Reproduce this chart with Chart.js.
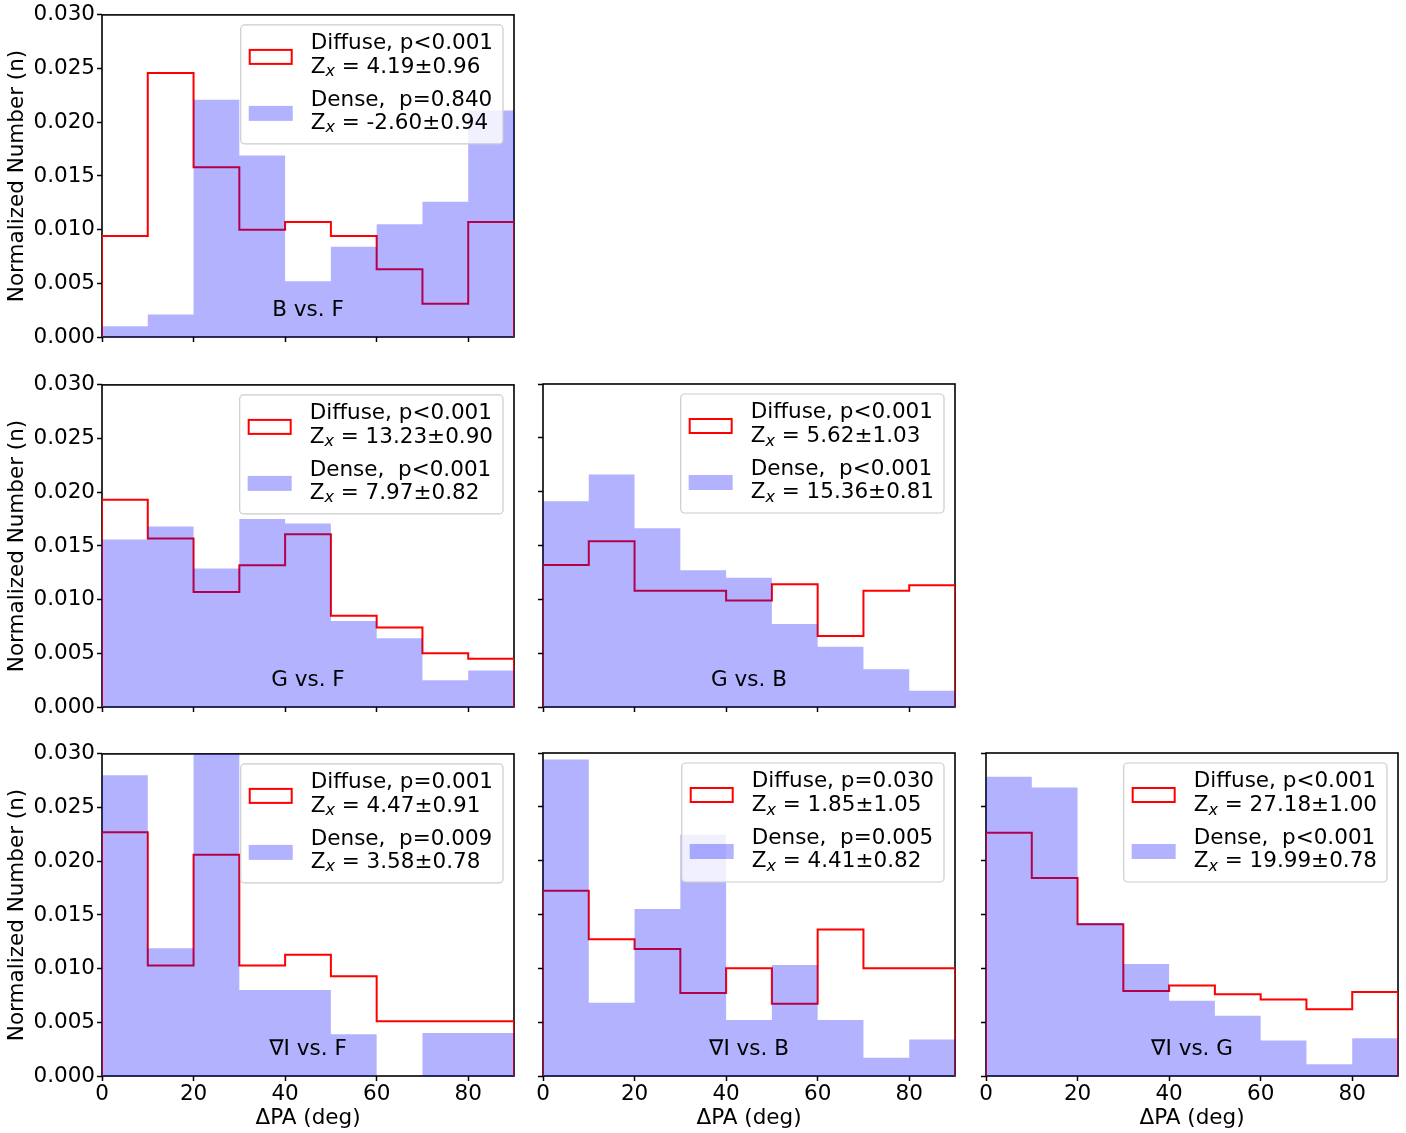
<!DOCTYPE html>
<html>
<head>
<meta charset="utf-8">
<script src="https://cdn.jsdelivr.net/npm/chart.js@4"></script>
<style>
  body { margin: 0; background: #fff; }
  #wrap { position: relative; width: 1406px; height: 1133px; overflow: hidden; }
  #wrap canvas { position: absolute; }
</style>
</head>
<body>
<div id="wrap"></div>
<script>
// histogram bins (deg) and axis ticks
const binEdges = [0, 10, 20, 30, 40, 50, 60, 70, 80, 90];
const xTicks = [0, 20, 40, 60, 80];
const yTicks = [0, 0.005, 0.010, 0.015, 0.020, 0.025, 0.030];

// panel labels
const panelNames = ["B vs. F", "G vs. F", "G vs. B", "∇I vs. F", "∇I vs. B", "∇I vs. G"];

// Diffuse histograms (red step)
const diffuseBF = [0.0094, 0.0246, 0.0158, 0.0100, 0.0107, 0.0094, 0.0063, 0.0031, 0.0107];
const diffuseGF = [0.0193, 0.0157, 0.0107, 0.0132, 0.0161, 0.0085, 0.0074, 0.0050, 0.0045];
const diffuseGB = [0.0132, 0.0154, 0.0108, 0.0108, 0.0099, 0.0114, 0.0066, 0.0108, 0.0113];
const diffuseIF = [0.0227, 0.0103, 0.0206, 0.0103, 0.0113, 0.0093, 0.0051, 0.0051, 0.0051];
const diffuseIB = [0.0172, 0.0127, 0.0118, 0.0077, 0.0100, 0.0067, 0.0136, 0.0100, 0.0100];
const diffuseIG = [0.0226, 0.0184, 0.0141, 0.0079, 0.0084, 0.0076, 0.0071, 0.0062, 0.0078];

// Dense histograms (blue filled)
const denseBF = [0.0010, 0.0021, 0.0221, 0.0169, 0.0052, 0.0084, 0.0105, 0.0126, 0.0211];
const denseGF = [0.0156, 0.0168, 0.0129, 0.0175, 0.0171, 0.0080, 0.0064, 0.0025, 0.0034];
const denseGB = [0.0191, 0.0216, 0.0166, 0.0127, 0.0120, 0.0077, 0.0056, 0.0035, 0.0015];
const denseIF = [0.0280, 0.0119, 0.0310, 0.0080, 0.0080, 0.0039, 0.0000, 0.0040, 0.0040];
const denseIB = [0.0294, 0.0068, 0.0155, 0.0224, 0.0052, 0.0103, 0.0052, 0.0017, 0.0034];
const denseIG = [0.0278, 0.0268, 0.0142, 0.0104, 0.0070, 0.0056, 0.0033, 0.0011, 0.0035];

// legend statistics
const pDiffuse = ["p<0.001", "p<0.001", "p<0.001", "p=0.001", "p=0.030", "p<0.001"];
const zDiffuse = ["4.19±0.96", "13.23±0.90", "5.62±1.03", "4.47±0.91", "1.85±1.05", "27.18±1.00"];
const pDense = ["p=0.840", "p<0.001", "p<0.001", "p=0.009", "p=0.005", "p<0.001"];
const zDense = ["-2.60±0.94", "7.97±0.82", "15.36±0.81", "3.58±0.78", "4.41±0.82", "19.99±0.78"];

const diffuseSets = [diffuseBF, diffuseGF, diffuseGB, diffuseIF, diffuseIB, diffuseIG];
const denseSets = [denseBF, denseGF, denseGB, denseIF, denseIB, denseIG];
const panelGrid = [[0, 0], [1, 0], [1, 1], [2, 0], [2, 1], [2, 2]];

// page layout
const plotLefts = [102, 543, 986];
const plotTops = [14, 384, 753];
const plotW = 412, plotH = 323;
const FONT = "DejaVu Sans";
const FS = 21.5;

// turn bin heights into histogram outline points
function stepPoints(values) {
  const pts = [{ x: binEdges[0], y: 0 }];
  values.forEach((v, i) => {
    pts.push({ x: binEdges[i], y: v });
    pts.push({ x: binEdges[i + 1], y: v });
  });
  pts.push({ x: binEdges[binEdges.length - 1], y: 0 });
  return pts;
}

function roundRect(ctx, x, y, w, h, r) {
  ctx.beginPath();
  ctx.moveTo(x + r, y);
  ctx.arcTo(x + w, y, x + w, y + h, r);
  ctx.arcTo(x + w, y + h, x, y + h, r);
  ctx.arcTo(x, y + h, x, y, r);
  ctx.arcTo(x, y, x + w, y, r);
  ctx.closePath();
}

// frame, panel name and the two-line legend
const panelDecor = {
  id: "panelDecor",
  beforeDatasetsDraw(chart) {
    const { ctx, chartArea: a } = chart;
    ctx.save();
    ctx.strokeStyle = "#000";
    ctx.lineWidth = 1.6;
    ctx.strokeRect(a.left, a.top, a.right - a.left, a.bottom - a.top);
    ctx.restore();
  },
  afterDatasetsDraw(chart, args, opts) {
    const { ctx, chartArea: a } = chart;
    ctx.save();
    ctx.fillStyle = "#000";
    ctx.font = FS + "px '" + FONT + "'";
    ctx.textAlign = "center";
    ctx.textBaseline = "alphabetic";
    ctx.fillText(opts.name, (a.left + a.right) / 2, a.bottom - 21);

    // legend
    ctx.textAlign = "left";
    const subFont = "italic 16px '" + FONT + "'";
    const zWidth = s => {
      ctx.font = FS + "px '" + FONT + "'";
      let w = ctx.measureText("Z").width + ctx.measureText(" = " + s).width;
      ctx.font = subFont;
      w += ctx.measureText("x").width;
      ctx.font = FS + "px '" + FONT + "'";
      return w;
    };
    const l1 = "Diffuse, " + opts.pd;
    const l3 = "Dense,  " + opts.pn;
    const tw = Math.max(ctx.measureText(l1).width, ctx.measureText(l3).width, zWidth(opts.zd), zWidth(opts.zn));
    const w = 70 + tw + 10, h = 119;
    const x = a.right - 11 - w, y = a.top + 10;
    roundRect(ctx, x, y, w, h, 4);
    ctx.fillStyle = "rgba(255,255,255,0.8)";
    ctx.fill();
    ctx.strokeStyle = "#cccccc";
    ctx.lineWidth = 1.2;
    ctx.stroke();

    ctx.strokeStyle = "#ff0000";
    ctx.lineWidth = 2;
    ctx.strokeRect(x + 9, y + 25, 42, 14);
    ctx.fillStyle = "rgba(0,0,255,0.3)";
    ctx.fillRect(x + 8, y + 81, 44, 15);

    const drawZ = (s, by) => {
      ctx.font = FS + "px '" + FONT + "'";
      ctx.fillText("Z", x + 70, by);
      let cx = x + 70 + ctx.measureText("Z").width;
      ctx.font = subFont;
      ctx.fillText("x", cx, by + 3.5);
      cx += ctx.measureText("x").width;
      ctx.font = FS + "px '" + FONT + "'";
      ctx.fillText(" = " + s, cx, by);
    };
    ctx.fillStyle = "#000";
    ctx.font = FS + "px '" + FONT + "'";
    ctx.fillText(l1, x + 70, y + 24);
    drawZ(opts.zd, y + 48);
    ctx.fillText(l3, x + 70, y + 81);
    drawZ(opts.zn, y + 104);
    ctx.restore();
  }
};

const wrap = document.getElementById("wrap");

panelGrid.forEach(([row, col], p) => {
  const L = plotLefts[col], T = plotTops[row];
  const yw = col === 0 ? L : 12;
  const xh = row === 2 ? 1133 - (T + plotH) : 16;
  const padTop = 14, padRight = 8;

  const canvas = document.createElement("canvas");
  canvas.width = yw + plotW + padRight;
  canvas.height = padTop + plotH + xh;
  canvas.style.left = (L - yw) + "px";
  canvas.style.top = (T - padTop) + "px";
  wrap.appendChild(canvas);

  const tickFont = { family: FONT, size: FS };

  new Chart(canvas, {
    type: "line",
    data: {
      datasets: [
        {
          label: "Dense",
          data: stepPoints(denseSets[p]),
          fill: "origin",
          backgroundColor: "rgba(0,0,255,0.3)",
          borderColor: "rgba(0,0,0,0)",
          borderWidth: 0,
          pointRadius: 0,
          order: 1
        },
        {
          label: "Diffuse",
          data: stepPoints(diffuseSets[p]),
          fill: false,
          borderColor: "#ff0000",
          borderWidth: 2,
          pointRadius: 0,
          order: 2
        }
      ]
    },
    options: {
      responsive: false,
      animation: false,
      devicePixelRatio: 1,
      events: [],
      layout: { padding: { top: padTop, right: padRight, bottom: 0, left: 0 }, autoPadding: false },
      elements: { line: { tension: 0 } },
      scales: {
        x: {
          type: "linear",
          min: 0,
          max: 90,
          afterBuildTicks: axis => { axis.ticks = xTicks.map(v => ({ value: v })); },
          afterFit: s => { s.height = xh; },
          grid: { drawOnChartArea: false, drawTicks: true, tickLength: 5, tickWidth: 1.5, tickColor: "#000" },
          border: { display: false },
          ticks: { display: row === 2, color: "#000", font: tickFont, padding: 1, maxRotation: 0 },
          title: { display: row === 2, text: "ΔPA (deg)", color: "#000", font: tickFont, padding: { top: 0, bottom: 2 } }
        },
        y: {
          min: 0,
          max: 0.03,
          afterBuildTicks: axis => { axis.ticks = yTicks.map(v => ({ value: v })); },
          afterFit: s => { s.width = yw; },
          grid: { drawOnChartArea: false, drawTicks: true, tickLength: 5, tickWidth: 1.5, tickColor: "#000" },
          border: { display: false },
          ticks: { display: col === 0, color: "#000", font: tickFont, padding: 2, callback: v => v.toFixed(3) },
          title: { display: col === 0, text: "Normalized Number (n)", color: "#000", font: tickFont, padding: { top: 5, bottom: 0 } }
        }
      },
      plugins: {
        legend: { display: false },
        tooltip: { enabled: false },
        panelDecor: { name: panelNames[p], pd: pDiffuse[p], zd: zDiffuse[p], pn: pDense[p], zn: zDense[p] }
      }
    },
    plugins: [panelDecor]
  });
});
</script>
</body>
</html>
